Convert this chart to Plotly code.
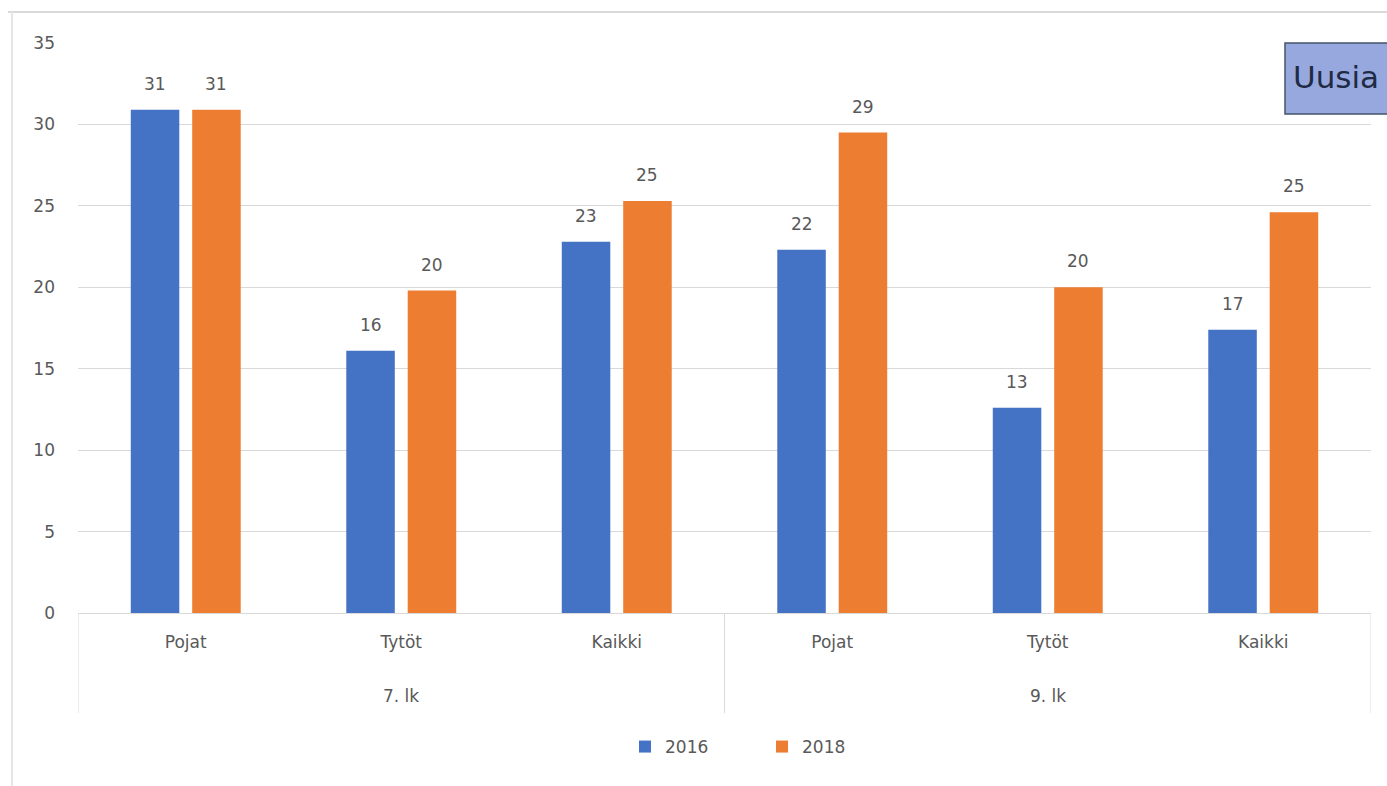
import plotly.graph_objects as go

grades = ["7. lk", "9. lk"]
groups = ["Pojat", "Tytöt", "Kaikki", "Pojat", "Tytöt", "Kaikki"]
values_2016 = [30.9, 16.1, 22.8, 22.3, 12.6, 17.4]
values_2018 = [30.9, 19.8, 25.3, 29.5, 20.0, 24.6]
labels_2016 = ["31", "16", "23", "22", "13", "17"]
labels_2018 = ["31", "20", "25", "29", "20", "25"]
y_ticks = [0, 5, 10, 15, 20, 25, 30, 35]

W, H = 1387, 786
L, R, T, B = 78, 16, 43, 173
pw, ph = W - L - R, H - T - B

def px_x(px):
    return (px - L) / pw

def px_y(py):
    return (H - B - py) / ph

font_c = "#595959"
fam = "DejaVu Sans"
fs = 17
xpos = list(range(len(groups)))
bargap = 0.43
off = (1 - bargap) / 4  # centre offset of each bar inside its group

fig = go.Figure()
fig.add_trace(go.Bar(
    x=xpos, y=values_2016, name="2016",
    marker=dict(color="#4472C4", line=dict(width=0)),
))
fig.add_trace(go.Bar(
    x=xpos, y=values_2018, name="2018",
    marker=dict(color="#ED7D31", line=dict(width=0)),
))

for i in xpos:
    for dx, v, t in [(-off, values_2016[i], labels_2016[i]),
                     (off, values_2018[i], labels_2018[i])]:
        fig.add_annotation(x=i + dx, y=v, text=t, showarrow=False,
                           yanchor="bottom", yshift=14,
                           font=dict(size=fs, color=font_c, family=fam))

fig.update_layout(
    width=W, height=H,
    margin=dict(l=L, r=R, t=T, b=B, autoexpand=False),
    paper_bgcolor="white", plot_bgcolor="white",
    barmode="group", bargap=bargap, bargroupgap=0.21,
    font=dict(family=fam, size=fs, color=font_c),
    legend=dict(orientation="h", x=px_x(762), xanchor="center",
                y=px_y(747), yanchor="middle",
                font=dict(size=fs, color=font_c, family=fam),
                itemwidth=30, entrywidth=92, tracegroupgap=0),
    showlegend=True,
)
fig.update_yaxes(
    range=[0, 35], tickvals=y_ticks, showgrid=True, gridcolor="#D9D9D9",
    gridwidth=1, zeroline=False, showline=False, ticks="",
    ticklabelstandoff=22, tickfont=dict(size=fs, color=font_c, family=fam),
)
fig.update_xaxes(
    range=[-0.5, len(groups) - 0.5], tickvals=xpos, ticktext=groups,
    showline=True, linecolor="#D9D9D9", linewidth=1,
    showgrid=False, ticks="", ticklabelstandoff=14,
    tickfont=dict(size=fs, color=font_c, family=fam),
)

# group dividers and outer category labels
for xd in [-0.5, 2.5, 5.5]:
    fig.add_shape(type="line", xref="x", yref="paper", x0=xd, x1=xd,
                  y0=0, y1=px_y(713), line=dict(color="#D9D9D9", width=1))
for i, g in enumerate(grades):
    fig.add_annotation(xref="x", yref="paper", x=i * 3 + 1, y=px_y(696),
                       text=g, showarrow=False, yanchor="middle",
                       font=dict(size=fs, color=font_c, family=fam))

# frame lines of the screenshot
fig.add_shape(type="line", xref="paper", yref="paper",
              x0=px_x(8), x1=px_x(W), y0=px_y(12), y1=px_y(12),
              line=dict(color="#D9D9D9", width=2), layer="above")
fig.add_shape(type="line", xref="paper", yref="paper",
              x0=px_x(12), x1=px_x(12), y0=px_y(12), y1=px_y(H),
              line=dict(color="#E6E6E6", width=2), layer="above")

# "Uusia" box at the top right edge
fig.add_shape(type="rect", xref="paper", yref="paper",
              x0=px_x(1285), x1=px_x(1400), y0=px_y(43), y1=px_y(114),
              fillcolor="#97A8DE", line=dict(color="#44546A", width=1.5),
              layer="above")
fig.add_annotation(xref="paper", yref="paper", x=px_x(1291), y=px_y(77),
                   xanchor="left", yanchor="middle", text="Uusia",
                   showarrow=False,
                   font=dict(size=31, color="#1F2A44", family="DejaVu Sans"))

fig.write_html("out.html")
